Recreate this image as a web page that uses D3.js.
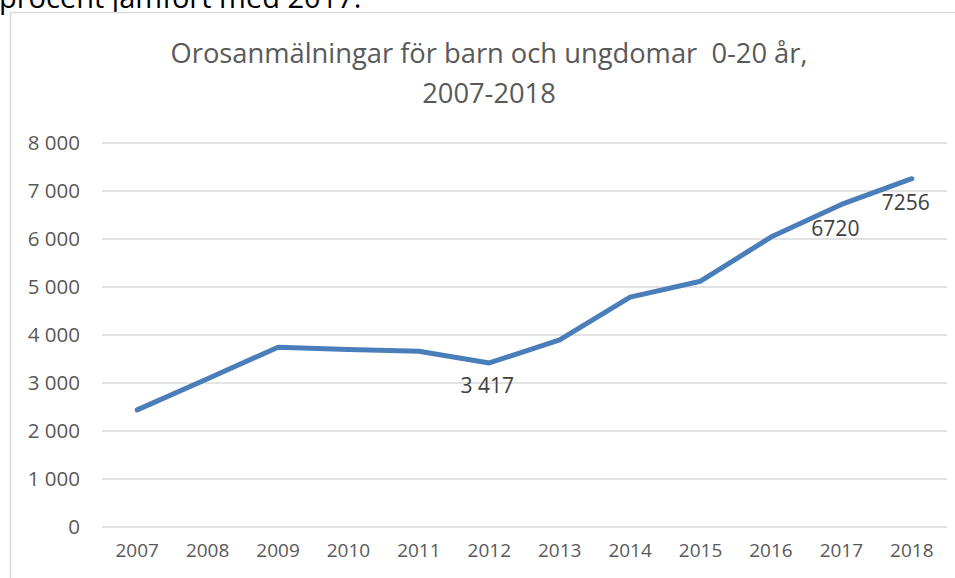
<!DOCTYPE html>
<html>
<head>
<meta charset="utf-8">
<script src="https://cdn.jsdelivr.net/npm/d3@7"></script>
<style>
  html, body { margin: 0; padding: 0; background: #fff; overflow: hidden; width: 955px; height: 578px; }
  svg { display: block; position: absolute; left: 0; top: 0; }
</style>
</head>
<body>
<div id="wrapper"></div>
<script>
// Data
const years = ['2007', '2008', '2009', '2010', '2011', '2012', '2013', '2014', '2015', '2016', '2017', '2018'];
const values = [2440, 3090, 3745, 3700, 3660, 3417, 3900, 4790, 5120, 6040, 6720, 7256];
const yTicks = [0, 1000, 2000, 3000, 4000, 5000, 6000, 7000, 8000];
const labelled = { '2012': '3 417', '2017': '6720', '2018': '7256' };
const titleLines = ['Orosanmälningar för barn och ungdomar  0-20 år,', '2007-2018'];
const pageText = 'procent jämfört med 2017.';

const font = '"Open Sans", sans-serif';

let dimensions = {
  width: 955,
  height: 578,
  margin: { top: 143, right: 8, bottom: 51, left: 102 },
};
dimensions.boundedWidth = dimensions.width - dimensions.margin.left - dimensions.margin.right;
dimensions.boundedHeight = dimensions.height - dimensions.margin.top - dimensions.margin.bottom;

const svg = d3.select('#wrapper')
  .append('svg')
  .attr('width', dimensions.width)
  .attr('height', dimensions.height);

// text from the page above the chart
svg.append('text')
  .attr('x', -1)
  .attr('y', 8)
  .attr('fill', '#000')
  .style('font-family', font)
  .style('font-size', '29px')
  .text(pageText);

// chart frame (only left and top edges are in view)
svg.append('rect')
  .attr('x', 10)
  .attr('y', 12)
  .attr('width', 960)
  .attr('height', 580)
  .attr('fill', '#fff');

svg.append('path')
  .attr('d', 'M10.5,578 V12.5 H955')
  .attr('fill', 'none')
  .attr('stroke', '#d9d9d9')
  .attr('stroke-width', 1.5);

// title
svg.append('g')
  .selectAll('text')
  .data(titleLines)
  .join('text')
  .attr('x', 489)
  .attr('y', (d, i) => 63 + i * 40)
  .attr('text-anchor', 'middle')
  .attr('fill', '#595959')
  .style('font-family', font)
  .style('font-size', '27.3px')
  .style('white-space', 'pre')
  .text((d) => d);

// scales
const xScale = d3.scaleBand()
  .domain(years)
  .range([0, dimensions.boundedWidth]);

const yScale = d3.scaleLinear()
  .domain([0, 8000])
  .range([dimensions.boundedHeight, 0]);

const bounds = svg.append('g')
  .attr('transform', `translate(${dimensions.margin.left}, ${dimensions.margin.top})`);

// gridlines
bounds.append('g')
  .selectAll('line')
  .data(yTicks)
  .join('line')
  .attr('x1', 0)
  .attr('x2', dimensions.boundedWidth)
  .attr('y1', (d) => yScale(d))
  .attr('y2', (d) => yScale(d))
  .attr('stroke', '#d9d9d9')
  .attr('stroke-width', 1.5);

// axes
const yAxis = d3.axisLeft(yScale)
  .tickValues(yTicks)
  .tickSize(0)
  .tickPadding(22)
  .tickFormat((d) => d3.format(',')(d).replace(',', ' '));

bounds.append('g')
  .attr('id', 'y-axis')
  .call(yAxis)
  .call((g) => g.select('.domain').remove())
  .selectAll('text')
  .attr('fill', '#595959')
  .style('font-family', font)
  .style('font-size', '20.5px');

const xAxis = d3.axisBottom(xScale).tickSize(0).tickPadding(17);

bounds.append('g')
  .attr('id', 'x-axis')
  .attr('transform', `translate(0, ${dimensions.boundedHeight})`)
  .call(xAxis)
  .call((g) => g.select('.domain').remove())
  .selectAll('text')
  .attr('fill', '#595959')
  .style('font-family', font)
  .style('font-size', '19px');

// line
const xAccessor = (d, i) => xScale(years[i]) + xScale.bandwidth() / 2;
const lineGenerator = d3.line()
  .x((d, i) => xAccessor(d, i))
  .y((d) => yScale(d));

bounds.append('path')
  .attr('d', lineGenerator(values))
  .attr('fill', 'none')
  .attr('stroke', '#4a7ebb')
  .attr('stroke-width', 5)
  .attr('stroke-linejoin', 'round')
  .attr('stroke-linecap', 'round');

// data labels
const labelOffset = { '2012': [-2, 30], '2017': [-6, 32], '2018': [-6, 31] };
bounds.append('g')
  .selectAll('text')
  .data(years.map((y, i) => ({ year: y, value: values[i], i })).filter((d) => labelled[d.year]))
  .join('text')
  .attr('x', (d) => xAccessor(d, d.i) + labelOffset[d.year][0])
  .attr('y', (d) => yScale(d.value) + labelOffset[d.year][1])
  .attr('text-anchor', 'middle')
  .attr('fill', '#404040')
  .style('font-family', font)
  .style('font-size', '21px')
  .text((d) => labelled[d.year]);
</script>
</body>
</html>
